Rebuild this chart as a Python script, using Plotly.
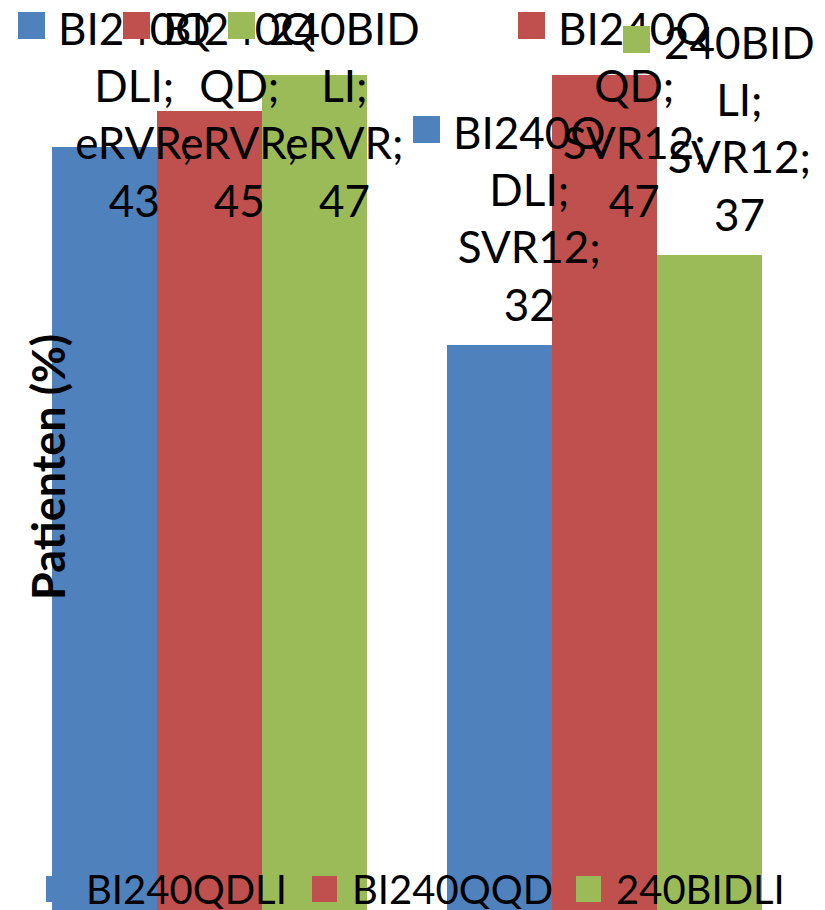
import plotly.graph_objects as go

# ---- data ----
categories = ["eRVR", "SVR12"]
series_names = ["BI240QDLI", "BI240QQD", "240BIDLI"]
bi240qdli = [43, 32]
bi240qqd = [45, 47]
bid240li = [47, 37]
series_values = [bi240qdli, bi240qqd, bid240li]
y_title = "Patienten (%)"

# ---- styling / layout ----
colors = ["#4F81BD", "#C0504D", "#9BBB59"]
W, H = 825, 910
M_L, M_R, M_T, M_B = 12, 23, 0, 0
PLOT_W = W - M_L - M_R
PLOT_H = H - M_T - M_B
Y_RANGE = [0.61, 51.17]
BARGAP = 0.2025
FONT = "Lato"
FS = 44
LINE_H = 1.3 * FS
LABEL_GAP = 12          # px between bar top and its label
LABEL_SHIFT = 30        # label text centre offset from bar centre (px)
KEY = 27                # label key square size (px)
KEY_DX = -87            # key left edge relative to bar centre (px)
KEY_DY = 12             # key top relative to label top (px)

# legend placed along the bottom edge (px positions of the key squares)
LEG_FS = 40
LEG_KEY_X = [46, 312, 576]
LEG_Y = 889
LEG_KEY = 25
LEG_TEXT_GAP = 13


def wrap_name(name, width=6):
    parts = [name[i:i + width] for i in range(0, len(name), width)]
    parts[-1] += ";"
    return parts


def px_from_value(v):
    return PLOT_H * (Y_RANGE[1] - v) / (Y_RANGE[1] - Y_RANGE[0])


fig = go.Figure()
n = len(series_names)
bar_w = (1 - BARGAP) / n

for name, vals, col in zip(series_names, series_values, colors):
    fig.add_trace(go.Bar(
        name=name, x=categories, y=vals,
        marker=dict(color=col, line=dict(width=0)),
        showlegend=False,
    ))

annotations = []
for ci, cat in enumerate(categories):
    for si, (name, vals, col) in enumerate(zip(series_names, series_values, colors)):
        v = vals[ci]
        xc = ci + (si - (n - 1) / 2) * bar_w
        lines = wrap_name(name) + [cat + ";", str(v)]
        block_h = len(lines) * LINE_H
        top_px = max(0.0, px_from_value(v) - LABEL_GAP - block_h)
        # legend key of the data label
        annotations.append(dict(
            xref="x", yref="paper", x=xc, y=1 - (top_px + KEY_DY) / PLOT_H,
            xanchor="left", yanchor="top", xshift=KEY_DX,
            text=" ", width=KEY, height=KEY, bgcolor=col,
            borderpad=0, borderwidth=0, showarrow=False,
            font=dict(family=FONT, size=8),
        ))
        annotations.append(dict(
            xref="x", yref="paper", x=xc, y=1 - top_px / PLOT_H,
            xanchor="center", yanchor="top", xshift=LABEL_SHIFT,
            text="<br>".join(lines), align="center", showarrow=False,
            font=dict(family=FONT, size=FS, color="#000000"),
        ))

# axis title
annotations.append(dict(
    xref="paper", yref="paper",
    x=(48 - M_L) / PLOT_W, y=1 - 467 / PLOT_H,
    xanchor="center", yanchor="middle", textangle=-90,
    text="<b>" + y_title + "</b>", showarrow=False,
    font=dict(family=FONT, size=45, color="#000000"),
))

# bottom legend
for name, col, kx in zip(series_names, colors, LEG_KEY_X):
    annotations.append(dict(
        xref="paper", yref="paper",
        x=(kx - M_L) / PLOT_W, y=1 - LEG_Y / PLOT_H,
        xanchor="left", yanchor="middle",
        text=" ", width=LEG_KEY, height=LEG_KEY + 1, bgcolor=col,
        borderpad=0, borderwidth=0, showarrow=False,
        font=dict(family=FONT, size=8),
    ))
    annotations.append(dict(
        xref="paper", yref="paper",
        x=(kx + LEG_KEY + LEG_TEXT_GAP - M_L) / PLOT_W, y=1 - LEG_Y / PLOT_H,
        xanchor="left", yanchor="middle", height=40, valign="middle",
        text=name, showarrow=False,
        font=dict(family=FONT, size=LEG_FS, color="#000000"),
    ))

fig.update_layout(
    width=W, height=H,
    margin=dict(l=M_L, r=M_R, t=M_T, b=M_B, pad=0),
    paper_bgcolor="#FFFFFF", plot_bgcolor="#FFFFFF",
    barmode="group", bargap=BARGAP, bargroupgap=0,
    xaxis=dict(type="category", range=[-0.5, len(categories) - 0.5],
               showticklabels=False, showgrid=False, zeroline=False,
               showline=False, ticks=""),
    yaxis=dict(range=Y_RANGE, showticklabels=False, showgrid=False,
               zeroline=False, showline=False, ticks=""),
    annotations=annotations,
    showlegend=False,
)

fig.write_html("out.html")
